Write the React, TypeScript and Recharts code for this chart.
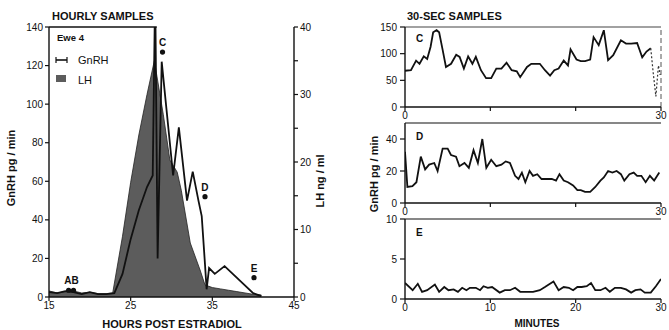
import React from 'react';
import { ComposedChart, LineChart, Line, Area, Scatter, XAxis, YAxis, ReferenceLine } from 'recharts';

const FONT = '"Liberation Sans", Arial, Helvetica, sans-serif';
const INK = '#111111';
const LH_FILL = '#5c5c5c';

// ---------- Hourly samples (left panel) ----------
const hourTicks = [15, 25, 35, 45];
const gnrhTicks = [0, 20, 40, 60, 80, 100, 120, 140];
const lhTicks = [0, 5, 10, 15, 20, 25, 30, 35, 40];

const gnrhHours = [15, 16, 17, 18, 19, 20, 21, 22, 23, 24, 25, 26, 27, 27.7, 28.0, 28.3, 28.8, 30.2, 30.9, 31.9, 32.6, 33.3, 33.7, 34.1, 34.3, 34.6, 35.3, 36.5, 40, 41];
const gnrhValues = [2.5, 2, 3, 2.5, 1.5, 2.5, 1.5, 1.5, 2, 12, 30, 45, 57, 63, 160, 20, 122, 63, 88, 50, 65, 50, 42, 17, 4, 15, 12, 16, 2, 0.5];

const lhHours = [15, 16, 17, 18, 19, 20, 21, 22, 22.8, 24, 25, 26, 27, 27.9, 29, 29.8, 30.7, 31.2, 32.3, 33.5, 34.1, 35, 36, 37, 38, 39, 40, 41];
const lhValues = [0.9, 0.6, 0.8, 0.9, 0.6, 0.7, 0.5, 0.5, 0.6, 9, 17, 24, 30, 35, 27, 20.3, 18.5, 15.8, 8, 4, 1.8, 1.4, 1.2, 1, 0.8, 0.6, 0.4, 0.3];

const markerHours = [17.4, 18.0, 28.9, 34.1, 40.1];
const markerValues = [3.5, 3.5, 127, 52, 10];
const markerLabels = ['AB', '', 'C', 'D', 'E'];

// ---------- 30-sec samples (right panels) ----------
const minuteTicks = [0, 10, 20, 30];

const cMinutes = [0, 0.7, 1.3, 1.7, 2.2, 2.6, 3.0, 3.3, 3.7, 4.0, 4.4, 4.8, 5.4, 6.0, 6.4, 6.9, 7.4, 7.9, 8.3, 8.9, 9.5, 10.1, 10.7, 11.3, 11.9, 12.5, 13.1, 13.5, 14.3, 14.8, 15.8, 16.4, 17.0, 17.5, 18.0, 18.6, 19.1, 19.4, 20.1, 20.6, 21.1, 21.7, 22.1, 22.7, 23.3, 23.8, 24.4, 25.3, 25.9, 26.5, 27.2, 27.8, 28.3, 28.8];
const cValues = [68, 69, 87, 81, 95, 90, 113, 140, 144, 140, 108, 75, 81, 98, 94, 72, 95, 81, 94, 69, 54, 54, 72, 72, 83, 69, 67, 56, 75, 81, 81, 69, 59, 69, 72, 87, 78, 108, 89, 86, 86, 89, 131, 116, 144, 88, 97, 125, 119, 119, 120, 93, 104, 110];
const cTailMinutes = [28.8, 29.1, 29.4, 29.7, 29.9];
const cTailValues = [110, 62, 20, 78, 60];

const dMinutes = [0, 0.28, 0.87, 1.34, 1.85, 2.36, 2.83, 3.43, 3.82, 4.41, 5.0, 5.39, 5.98, 6.38, 6.97, 7.48, 8.03, 8.54, 9.06, 9.53, 10.1, 10.7, 11.3, 11.8, 12.3, 12.9, 13.3, 13.7, 14.1, 14.6, 15.0, 15.5, 16.0, 16.6, 17.2, 17.7, 18.1, 18.6, 19.1, 19.7, 20.2, 20.6, 21.1, 21.7, 22.3, 22.9, 23.3, 23.8, 24.3, 24.8, 25.3, 25.7, 26.3, 26.8, 27.2, 27.7, 28.2, 28.7, 29.2, 29.8];
const dValues = [32, 10, 10.5, 13, 29, 21, 24, 25, 20, 34, 34, 30, 29, 23, 25, 22, 33, 25, 40, 22, 27, 23, 24, 26, 25, 17, 15, 19, 13, 20, 17, 18, 15, 15, 15, 14, 18, 14, 13, 11, 8, 8, 7, 7, 10, 14, 16, 20, 19, 20, 18, 14, 18, 19, 17, 17, 13, 17, 14, 19];

const eMinutes = [0, 0.9, 1.5, 2.0, 2.6, 3.5, 4.0, 4.6, 5.1, 5.7, 6.2, 6.7, 7.2, 7.6, 8.3, 8.8, 9.2, 9.7, 10.2, 11.1, 11.7, 12.3, 12.9, 13.5, 14.3, 15.0, 15.8, 16.4, 17.4, 18.0, 18.6, 19.2, 19.7, 20.2, 20.7, 21.3, 21.8, 22.3, 22.9, 23.5, 24.0, 24.6, 25.3, 25.9, 26.5, 27.0, 27.6, 28.1, 28.8, 29.4, 30];
const eValues = [2.0, 1.1, 1.9, 0.9, 1.1, 1.8, 0.9, 1.5, 1.1, 1.2, 0.9, 1.4, 1.1, 1.4, 1.4, 1.1, 1.6, 1.4, 1.5, 0.8, 1.1, 1.1, 1.4, 0.9, 0.9, 0.9, 1.1, 1.5, 2.2, 1.1, 1.5, 1.4, 1.1, 1.5, 1.5, 1.6, 2.0, 1.1, 1.1, 1.4, 0.9, 1.4, 1.4, 1.2, 0.8, 1.1, 1.2, 0.8, 0.8, 1.6, 2.5];

const zip = (xs: number[], ys: number[]) => xs.map((x, i) => ({ x, y: ys[i] }));

const gnrhRows = zip(gnrhHours, gnrhValues);
const lhRows = zip(lhHours, lhValues);
const markerRows = markerHours.map((x, i) => ({ x, y: markerValues[i], label: markerLabels[i] }));
const cRows = zip(cMinutes, cValues);
const cTailRows = zip(cTailMinutes, cTailValues);
const dRows = zip(dMinutes, dValues);
const eRows = zip(eMinutes, eValues);

const tickStyle = { fontSize: 10, fill: INK, fontFamily: FONT };
const axisLine = { stroke: INK, strokeWidth: 1.4 };
const tickLine = { stroke: INK, strokeWidth: 1.2 };

const MarkerShape = (p: any) => {
  const lbl = p.payload?.label;
  const dx = lbl === 'AB' ? 3 : 0;
  return (
    <g>
      <circle cx={p.cx} cy={p.cy} r={2.6} fill={INK} />
      {lbl ? (
        <text x={p.cx + dx} y={p.cy - 6} textAnchor="middle" fontFamily={FONT} fontWeight="bold" fontSize={10} fill={INK}>
          {lbl}
        </text>
      ) : null}
    </g>
  );
};

function HourlyChart() {
  return (
    <div style={{ position: 'absolute', left: 0, top: 0 }}>
      <ComposedChart width={330} height={330} margin={{ top: 27, right: 6, bottom: 13, left: 19 }}>
        <XAxis dataKey="x" type="number" domain={[15, 45]} ticks={hourTicks} allowDataOverflow height={20}
          tick={tickStyle} axisLine={axisLine} tickLine={tickLine} tickSize={4} tickMargin={1} />
        <YAxis yAxisId="gnrh" orientation="left" type="number" domain={[0, 140]} ticks={gnrhTicks} allowDataOverflow width={30}
          tick={tickStyle} axisLine={axisLine} tickLine={tickLine} tickSize={4} tickMargin={2} />
        <YAxis yAxisId="lh" orientation="right" type="number" domain={[0, 40]} ticks={lhTicks} allowDataOverflow width={30}
          tick={tickStyle} axisLine={axisLine} tickLine={tickLine} tickSize={4} tickMargin={2}
          tickFormatter={(v: number) => (v % 10 === 0 ? String(v) : '')} />
        <Area yAxisId="lh" data={lhRows} dataKey="y" type="linear" stroke="#222" strokeWidth={0.8}
          fill={LH_FILL} fillOpacity={1} isAnimationActive={false} dot={false} activeDot={false} />
        <Line yAxisId="gnrh" data={gnrhRows} dataKey="y" type="linear" stroke={INK} strokeWidth={1.8}
          dot={false} activeDot={false} isAnimationActive={false} />
        <Scatter yAxisId="gnrh" data={markerRows} dataKey="y" shape={MarkerShape} isAnimationActive={false} />
        <ReferenceLine yAxisId="gnrh" segment={[{ x: 15, y: 140 }, { x: 28.2, y: 140 }]} stroke={INK} strokeWidth={1.4} ifOverflow="visible" />
      </ComposedChart>
    </div>
  );
}

type PanelProps = {
  top: number;
  height: number;
  mt: number;
  mb: number;
  rows: { x: number; y: number }[];
  tail?: { x: number; y: number }[];
  domain: [number, number];
  yTicks: number[];
  allLabels: boolean;
  rightBorder?: boolean;
  topBorderColor: string;
};

function Panel({ top, height, mt, mb, rows, tail, domain, yTicks, allLabels, rightBorder, topBorderColor }: PanelProps) {
  return (
    <div style={{ position: 'absolute', left: 330, top }}>
      <LineChart width={339} height={height} margin={{ top: mt, right: 8, bottom: mb, left: 30 }}>
        <XAxis dataKey="x" type="number" domain={[0, 30]} ticks={minuteTicks} allowDataOverflow height={14}
          tick={tickStyle} axisLine={axisLine} tickLine={tickLine} tickSize={4} tickMargin={1}
          tickFormatter={(v: number) => (allLabels || v === 0 || v === 30 ? String(v) : '')} />
        <YAxis type="number" domain={domain} ticks={yTicks} allowDataOverflow width={45}
          tick={tickStyle} axisLine={axisLine} tickLine={tickLine} tickSize={5} tickMargin={3} />
        <ReferenceLine y={domain[1]} stroke={topBorderColor} strokeWidth={1.2} ifOverflow="visible" />
        {rightBorder ? <ReferenceLine x={30} stroke="#555" strokeWidth={1} strokeDasharray="5 3" ifOverflow="visible" /> : null}
        <Line data={rows} dataKey="y" type="linear" stroke={INK} strokeWidth={1.8} dot={false} activeDot={false} isAnimationActive={false} />
        {tail ? (
          <Line data={tail} dataKey="y" type="linear" stroke="#333" strokeWidth={1.2} strokeDasharray="2 2"
            dot={false} activeDot={false} isAnimationActive={false} />
        ) : null}
      </LineChart>
    </div>
  );
}

function Overlay() {
  const t = { fontFamily: FONT, fill: INK } as const;
  return (
    <svg width={669} height={330} style={{ position: 'absolute', left: 0, top: 0, pointerEvents: 'none' }}>
      <text x={52} y={20} fontSize={11} fontWeight="bold" {...t}>HOURLY SAMPLES</text>
      <text x={407} y={20} fontSize={11} fontWeight="bold" {...t}>30-SEC SAMPLES</text>
      <text x={172} y={328} fontSize={11} fontWeight="bold" textAnchor="middle" {...t}>HOURS POST ESTRADIOL</text>
      <text x={537} y={327} fontSize={10} fontWeight="bold" textAnchor="middle" {...t}>MINUTES</text>
      <text transform="translate(15,168) rotate(-90)" fontSize={11} fontWeight="bold" textAnchor="middle" {...t}>GnRH pg / min</text>
      <text transform="translate(324,181) rotate(-90)" fontSize={11} fontWeight="bold" textAnchor="middle" {...t}>LH ng / ml</text>
      <text transform="translate(378,174) rotate(-90)" fontSize={11} fontWeight="bold" textAnchor="middle" {...t}>GnRH pg / min</text>
      <text x={57} y={41} fontSize={9.5} fontWeight="bold" {...t}>Ewe 4</text>
      <line x1={56} y1={60} x2={67} y2={60} stroke={INK} strokeWidth={1.6} />
      <line x1={56} y1={57} x2={56} y2={63} stroke={INK} strokeWidth={1.2} />
      <line x1={67} y1={57} x2={67} y2={63} stroke={INK} strokeWidth={1.2} />
      <text x={78} y={64} fontSize={11} {...t}>GnRH</text>
      <rect x={56} y={75} width={10} height={7} fill={LH_FILL} />
      <text x={78} y={84} fontSize={11} {...t}>LH</text>
      <text x={416} y={42} fontSize={10} fontWeight="bold" {...t}>C</text>
      <text x={416} y={140} fontSize={10} fontWeight="bold" {...t}>D</text>
      <text x={416} y={236} fontSize={10} fontWeight="bold" {...t}>E</text>
    </svg>
  );
}

export default function App() {
  return (
    <div style={{ position: 'absolute', left: 0, top: 0, width: 669, height: 330, background: '#fff', overflow: 'hidden' }}>
      <HourlyChart />
      <Panel top={0} height={125} mt={27} mb={4} rows={cRows} tail={cTailRows} domain={[0, 150]} yTicks={[0, 50, 100, 150]}
        allLabels={false} rightBorder topBorderColor="#444" />
      <Panel top={112} height={113} mt={11} mb={8} rows={dRows} domain={[0, 50]} yTicks={[0, 20, 40]}
        allLabels={false} topBorderColor={INK} />
      <Panel top={208} height={110} mt={11} mb={5} rows={eRows} domain={[0, 10]} yTicks={[0, 5, 10]}
        allLabels topBorderColor={INK} />
      <Overlay />
    </div>
  );
}
